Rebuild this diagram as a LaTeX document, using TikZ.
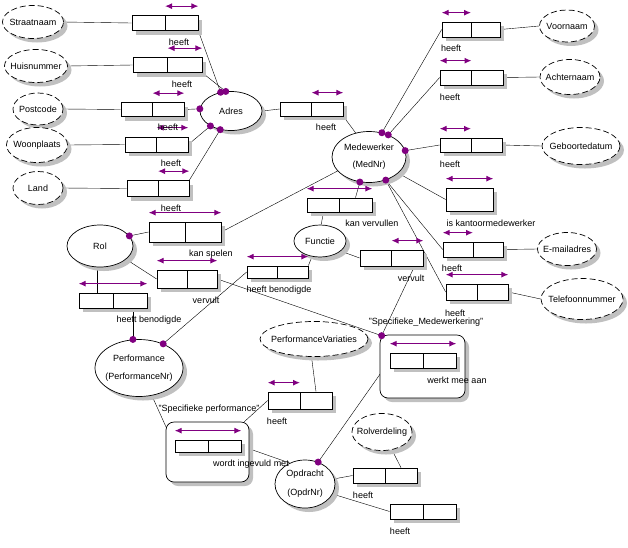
\documentclass[tikz,border=0pt]{standalone}
\usepackage{fontspec}
\setmainfont{Liberation Sans}
\usetikzlibrary{arrows.meta,shapes.geometric,backgrounds}
\definecolor{ormPurple}{HTML}{800080}
\definecolor{shadowGray}{HTML}{C0C0C0}
\newcommand{\ctr}[1]{\makebox[0pt]{#1}}

\begin{document}
\begin{tikzpicture}[
    x=1pt, y=-1pt,
    font=\fontsize{9}{11}\selectfont,
    line width=0.7pt,
    shadowed/.style={preaction={draw=none, fill=shadowGray, transform canvas={xshift=4pt, yshift=-4pt}}},
    entity/.style={ellipse, draw, fill=white, inner sep=0pt, align=center, shadowed},
    value/.style={entity, dash pattern=on 6pt off 3pt},
    role/.style={rectangle, draw, fill=white, inner sep=0pt, minimum height=15pt, shadowed},
    fact/.style={role, minimum width=63pt, path picture={\draw[line width=0.7pt] (path picture bounding box.north) -- (path picture bounding box.south);}},
    objtype/.style={rectangle, draw, fill=white, rounded corners=8pt, inner sep=0pt, shadowed},
    uniq/.style={{Latex[length=7pt,width=6pt]}-{Latex[length=7pt,width=6pt]}, color=ormPurple, line width=1.1pt},
    dot/.style={fill=ormPurple},
    lbl/.style={inner sep=0pt}
]
\useasboundingbox (0,0) rectangle (628,547);

% Value types
\node[value, minimum width=61pt, minimum height=33pt] (straatnaam) at (33,22) {\ctr{Straatnaam}};
\node[value, minimum width=63pt, minimum height=33pt] (huisnummer) at (36,66) {\ctr{Huisnummer}};
\node[value, minimum width=50pt, minimum height=32pt] (postcode) at (38,109) {\ctr{Postcode}};
\node[value, minimum width=61pt, minimum height=35pt] (woonplaats) at (37,145) {\ctr{Woonplaats}};
\node[value, minimum width=50pt, minimum height=33pt] (land) at (38,188) {\ctr{Land}};
\node[value, minimum width=55pt, minimum height=32pt] (voornaam) at (567,26) {\ctr{Voornaam}};
\node[value, minimum width=60pt, minimum height=35pt] (achternaam) at (570,77) {\ctr{Achternaam}};
\node[value, minimum width=78pt, minimum height=37pt] (geboortedatum) at (581,146) {\ctr{Geboortedatum}};
\node[value, minimum width=59pt, minimum height=33pt] (email) at (567,249) {\ctr{E-mailadres}};
\node[value, minimum width=82pt, minimum height=41pt] (telefoon) at (582,299) {\ctr{Telefoonnummer}};
\node[value, minimum width=108pt, minimum height=35pt] (perfvariaties) at (314,339) {\ctr{PerformanceVariaties}};
\node[value, minimum width=60pt, minimum height=37pt] (rolverdeling) at (382,432) {\ctr{Rolverdeling}};

% Entity types
\node[entity, minimum width=62pt, minimum height=39pt] (adres) at (231,111) {\ctr{Adres}};
\node[entity, minimum width=74pt, minimum height=51pt] (medewerker) at (369,157) {\ctr{Medewerker}\\[6pt]\ctr{(MedNr)}};
\node[entity, minimum width=66pt, minimum height=42pt] (rol) at (100,246) {\ctr{Rol}};
\node[entity, minimum width=52pt, minimum height=32pt] (functie) at (320,241) {\ctr{Functie}};
\node[entity, minimum width=88pt, minimum height=57pt] (performance) at (139,368) {\ctr{Performance}\\[7pt]\ctr{(PerformanceNr)}};
\node[entity, minimum width=60pt, minimum height=48pt] (opdracht) at (305,484) {\ctr{Opdracht}\\[8pt]\ctr{(OpdrNr)}};

% Objectified fact types
\node[objtype, minimum width=85pt, minimum height=63pt] (objSM) at (422.5,366.5) {};
\node[objtype, minimum width=83pt, minimum height=60pt] (objSP) at (207.5,452) {};
\coordinate (smDot) at ([xshift=2pt,yshift=-1pt]objSM.north west);

% Fact types
\node[fact, minimum width=66pt] (fStraat) at (165,23) {};
\node[fact, minimum width=69pt] (fHuis) at (167.5,65) {};
\node[fact, minimum height=14pt] (fPost) at (152.5,109.5) {};
\node[fact] (fWoon) at (156.5,144.5) {};
\node[fact, minimum width=62pt, minimum height=16pt] (fLand) at (158,188.5) {};
\node[fact, minimum height=14pt] (fAdres) at (311.5,109) {};
\node[fact, minimum width=58pt] (fVoor) at (471,29.5) {};
\node[fact] (fAchter) at (471.5,77.5) {};
\node[fact, minimum width=62pt, minimum height=14pt] (fGeb) at (471,145) {};
\node[role, minimum width=47pt, minimum height=23pt] (fKantoor) at (469.5,199.5) {};
\node[fact, minimum width=60pt] (fEmail) at (473,249.5) {};
\node[fact, minimum width=62pt, minimum height=16pt] (fTel) at (477,292) {};
\node[fact, minimum width=72pt, minimum height=20pt] (fKanSpelen) at (185,232) {};
\node[fact, minimum width=60pt, minimum height=18pt] (fVervultRol) at (187,279) {};
\node[fact, minimum width=68pt] (fBenodigdRol) at (113,300.5) {};
\node[fact, minimum width=61pt, minimum height=12pt] (fBenodigdFunctie) at (277.5,272) {};
\node[fact, minimum width=65pt, minimum height=14pt] (fKanVervullen) at (339.5,205) {};
\node[fact, minimum height=16pt] (fVervultFunctie) at (391.5,258) {};
\node[fact, minimum width=66pt] (fWerkt) at (423,360.5) {};
\node[fact, minimum width=66pt, minimum height=12pt] (fIngevuld) at (208,446) {};
\node[fact, minimum width=64pt, minimum height=17pt] (fPV) at (300,400.5) {};
\node[fact, minimum width=64pt] (fRolverdeling) at (385,475.5) {};
\node[fact, minimum width=66pt] (fOpdrHeeft) at (423,511.5) {};

% Connectors
\begin{scope}[on background layer]
\draw (straatnaam.east) -- (fStraat.west);
\draw (fStraat.south east) -- (adres.119);
\draw (huisnummer.east) -- (fHuis.west);
\draw (fHuis.south east) -- (adres.105);
\draw (postcode.east) -- (fPost.west);
\draw (fPost.east) -- (adres.176);
\draw (woonplaats.east) -- (fWoon.west);
\draw (fWoon.east) -- (adres.216);
\draw (land.east) -- (fLand.west);
\draw (fLand.north east) -- (adres.240);
\draw (adres.east) -- (fAdres.west);
\draw (fAdres.south east) -- (medewerker.119);
\draw (medewerker.62) -- (fVoor.west);
\draw (fVoor.east) -- (voornaam.west);
\draw (medewerker.49) -- (fAchter.west);
\draw (fAchter.east) -- (achternaam.west);
\draw (medewerker.10) -- (fGeb.west);
\draw (fGeb.east) -- (geboortedatum.west);
\draw (medewerker.331) -- (fKantoor.west);
\draw (medewerker.306) -- (fEmail.west);
\draw (fEmail.east) -- (email.west);
\draw (medewerker.306) -- (fTel.west);
\draw (fTel.east) -- (telefoon.west);
\draw (medewerker.204) -- (fKanSpelen.east);
\draw (rol.19) -- (fKanSpelen.west);
\draw (medewerker.250) -- ([xshift=16pt]fKanVervullen.north);
\draw ([xshift=-16pt]fKanVervullen.south) -- (functie.86);
\draw (rol.333) -- (fVervultRol.west);
\draw (fVervultRol.east) -- (smDot);
\draw (functie.334) -- (fVervultFunctie.west);
\draw ([xshift=23pt]fVervultFunctie.south) -- (smDot);
\draw (rol.262) -- (rol.262 |- fBenodigdRol.north);
\draw (performance.102 |- fBenodigdRol.south) -- (performance.102);
\draw (functie.243) -- (fBenodigdFunctie.north east);
\draw (fBenodigdFunctie.west) -- (performance.45);
\draw (fWerkt.west) -- (opdracht.59);
\draw (performance.295) -- (fIngevuld.west);
\draw (fIngevuld.east) -- (opdracht.126);
\draw ([xshift=-5pt]objSP.north east) -- (fPV.west);
\draw ([xshift=16pt]fPV.north) -- (perfvariaties.262);
\draw (opdracht.10) -- (fRolverdeling.west);
\draw ([xshift=16pt]fRolverdeling.north) -- (rolverdeling.299);
\draw (opdracht.340) -- (fOpdrHeeft.west);
\end{scope}

% Uniqueness constraints
\draw[uniq] ([yshift=9pt]fStraat.north) -- ([yshift=9pt]fStraat.north east);
\draw[uniq] ([yshift=9pt]fHuis.north) -- ([yshift=9pt]fHuis.north east);
\draw[uniq] ([yshift=9pt]fPost.north) -- ([yshift=9pt]fPost.north east);
\draw[uniq] ([yshift=9pt]fWoon.north) -- ([yshift=9pt]fWoon.north east);
\draw[uniq] ([yshift=9pt]fLand.north) -- ([yshift=9pt]fLand.north east);
\draw[uniq] ([yshift=9pt]fAdres.north) -- ([yshift=9pt]fAdres.north east);
\draw[uniq] ([yshift=9pt]fVoor.north west) -- ([yshift=9pt]fVoor.north);
\draw[uniq] ([yshift=9pt]fAchter.north west) -- ([yshift=9pt]fAchter.north);
\draw[uniq] ([yshift=9pt]fGeb.north west) -- ([yshift=9pt]fGeb.north);
\draw[uniq] ([yshift=9pt]fKantoor.north west) -- ([yshift=9pt]fKantoor.north east);
\draw[uniq] ([yshift=9pt]fEmail.north west) -- ([yshift=9pt]fEmail.north);
\draw[uniq] ([yshift=9pt]fTel.north west) -- ([yshift=9pt]fTel.north east);
\draw[uniq] ([yshift=9pt]fKanSpelen.north west) -- ([yshift=9pt]fKanSpelen.north east);
\draw[uniq] ([yshift=9pt]fVervultRol.north west) -- ([yshift=9pt]fVervultRol.north east);
\draw[uniq] ([yshift=9pt]fBenodigdRol.north west) -- ([yshift=9pt]fBenodigdRol.north east);
\draw[uniq] ([yshift=9pt]fBenodigdFunctie.north west) -- ([yshift=9pt]fBenodigdFunctie.north east);
\draw[uniq] ([yshift=9pt]fKanVervullen.north west) -- ([yshift=9pt]fKanVervullen.north east);
\draw[uniq] ([yshift=9pt]fVervultFunctie.north) -- ([yshift=9pt]fVervultFunctie.north east);
\draw[uniq] ([yshift=9pt]fWerkt.north west) -- ([yshift=9pt]fWerkt.north east);
\draw[uniq] ([yshift=9pt]fIngevuld.north west) -- ([yshift=9pt]fIngevuld.north east);
\draw[uniq] ([yshift=9pt]fPV.north west) -- ([yshift=9pt]fPV.north);

% Mandatory role dots
\foreach \p in {adres.119, adres.105, adres.176, adres.216, adres.240,
                medewerker.62, medewerker.49, medewerker.10, medewerker.306, medewerker.250,
                rol.19, performance.102, performance.45, smDot, opdracht.59}
  \fill[dot] (\p) circle (3.5pt);

% Labels
\node[lbl] (lStraat) at (179,42) {heeft};
\node[lbl] (lHuis) at (182,84) {heeft};
\node[lbl] (lPost) at (168,127) {heeft};
\node[lbl] (lWoon) at (171,163) {heeft};
\node[lbl] (lLand) at (171,208) {heeft};
\node[lbl] (lAdres) at (326,127) {heeft};
\node[lbl] (lVoor) at (451,48) {heeft};
\node[lbl] (lAchter) at (450,97) {heeft};
\node[lbl] (lGeb) at (450,164) {heeft};
\node[lbl] (lKantoor) at (491,223) {is kantoormedewerker};
\node[lbl] (lEmail) at (452,268) {heeft};
\node[lbl] (lTel) at (455,313) {heeft};
\node[lbl] (lKanSpelen) at (211,254) {kan spelen};
\node[lbl] (lVervultRol) at (206,300) {vervult};
\node[lbl] (lBenodigdRol) at (149,320) {heeft benodigde};
\node[lbl] (lBenodigdFunctie) at (279,290) {heeft benodigde};
\node[lbl] (lKanVervullen) at (372,223) {kan vervullen};
\node[lbl] (lVervultFunctie) at (411,278) {vervult};
\node[lbl] (lSM) at (426,322) {"Specifieke\_Medewerkering"};
\node[lbl] (lWerkt) at (457,380) {werkt mee aan};
\node[lbl] (lSP) at (209,409) {"Specifieke performance"};
\node[lbl] (lIngevuld) at (251,464) {wordt ingevuld met};
\node[lbl] (lPV) at (277,421) {heeft};
\node[lbl] (lRolverdeling) at (363,495) {heeft};
\node[lbl] (lOpdrHeeft) at (400,531) {heeft};

\end{tikzpicture}
\end{document}
